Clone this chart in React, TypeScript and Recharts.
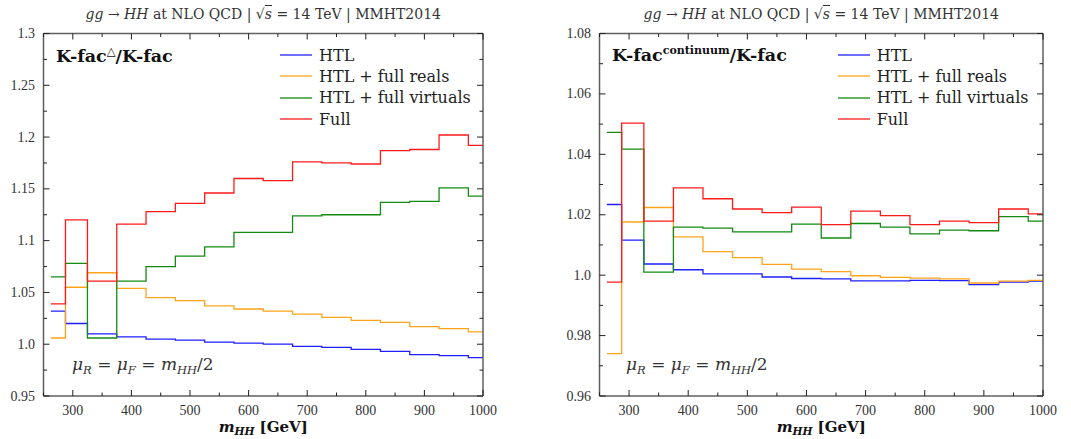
import React from "react";
import { Legend, Line, LineChart, XAxis, YAxis } from "recharts";

// bin edges in m_HH [GeV]; the last edge closes the last bin
const binEdges = [262.5, 287.5, 325, 375, 425, 475, 525, 575, 625, 675, 725, 775, 825, 875, 925, 975, 1000];

// K-fac^triangle / K-fac
const triHtl = [1.032, 1.020, 1.010, 1.007, 1.005, 1.004, 1.002, 1.001, 1.000, 0.998, 0.997, 0.995, 0.993, 0.990, 0.989, 0.987];
const triReals = [1.006, 1.055, 1.069, 1.054, 1.045, 1.042, 1.037, 1.034, 1.032, 1.029, 1.026, 1.023, 1.021, 1.017, 1.015, 1.012];
const triVirtuals = [1.065, 1.078, 1.006, 1.061, 1.075, 1.085, 1.094, 1.108, 1.108, 1.124, 1.125, 1.125, 1.137, 1.138, 1.151, 1.143];
const triFull = [1.039, 1.120, 1.061, 1.116, 1.128, 1.136, 1.146, 1.160, 1.158, 1.176, 1.175, 1.174, 1.187, 1.188, 1.202, 1.192];

// K-fac^continuum / K-fac
const contHtl = [1.0234, 1.0116, 1.0037, 1.0018, 1.0004, 1.0004, 0.9994, 0.9989, 0.9988, 0.9981, 0.9981, 0.9983, 0.9982, 0.9969, 0.9977, 0.998];
const contReals = [0.974, 1.0176, 1.0224, 1.0127, 1.0078, 1.0058, 1.0036, 1.002, 1.0012, 0.9998, 0.9993, 0.999, 0.9988, 0.9974, 0.998, 0.9983];
const contVirtuals = [1.0473, 1.0417, 1.001, 1.0159, 1.0156, 1.0143, 1.0143, 1.0169, 1.0123, 1.0171, 1.0159, 1.0137, 1.0149, 1.0147, 1.0194, 1.0179];
const contFull = [0.9977, 1.0503, 1.0179, 1.0289, 1.0253, 1.0219, 1.0207, 1.0225, 1.0167, 1.0212, 1.0197, 1.0167, 1.0179, 1.0174, 1.0219, 1.0203];

const seriesNames = ["HTL", "HTL + full reals", "HTL + full virtuals", "Full"];
const seriesColors = ["#1f1fff", "#ffa31a", "#138a13", "#ff1a1a"];
const keys = ["htl", "reals", "virtuals", "full"];

const xMajorTicks = [300, 400, 500, 600, 700, 800, 900, 1000];
const xAllTicks = [250, 300, 350, 400, 450, 500, 550, 600, 650, 700, 750, 800, 850, 900, 950, 1000];

const triYTicks = [0.95, 1.0, 1.05, 1.1, 1.15, 1.2, 1.25, 1.3];
const triYLabels = ["0.95", "1.0", "1.05", "1.1", "1.15", "1.2", "1.25", "1.3"];
const triYAll = [0.95, 0.975, 1.0, 1.025, 1.05, 1.075, 1.1, 1.125, 1.15, 1.175, 1.2, 1.225, 1.25, 1.275, 1.3];

const contYTicks = [0.96, 0.98, 1.0, 1.02, 1.04, 1.06, 1.08];
const contYLabels = ["0.96", "0.98", "1.0", "1.02", "1.04", "1.06", "1.08"];
const contYAll = [0.96, 0.97, 0.98, 0.99, 1.0, 1.01, 1.02, 1.03, 1.04, 1.05, 1.06, 1.07, 1.08];

function buildRows(series: number[][]) {
  return binEdges.map((x, i) => {
    const row: Record<string, number> = { x };
    const j = Math.min(i, series[0].length - 1);
    keys.forEach((k, s) => {
      row[k] = series[s][j];
    });
    return row;
  });
}

const FRAME = "#5f5f5f";
const SERIF = "'DejaVu Serif', serif";
const TICK_FONT = "'Liberation Serif', serif";

type Side = "bottom" | "top" | "left" | "right";

// draws inward tick marks (long for majors) and the labels of the major ticks
function makeTick(side: Side, majors: number[], labels?: string[]) {
  return (props: any) => {
    const { x, y, payload } = props;
    const v = payload.value;
    const idx = majors.indexOf(v);
    const len = idx >= 0 ? 6 : 3.5;
    let x2 = x;
    let y2 = y;
    if (side === "bottom") y2 = y - len;
    if (side === "top") y2 = y + len;
    if (side === "left") x2 = x + len;
    if (side === "right") x2 = x - len;
    return (
      <g>
        <line x1={x} y1={y} x2={x2} y2={y2} stroke="#222" strokeWidth={1} />
        {labels && idx >= 0 && side === "bottom" && (
          <text x={x} y={y + 18.5} textAnchor="middle" fontFamily={TICK_FONT} fontSize={14} fill="#333">
            {labels[idx]}
          </text>
        )}
        {labels && idx >= 0 && side === "left" && (
          <text x={x - 8.5} y={y + 4.5} textAnchor="end" fontFamily={TICK_FONT} fontSize={14} fill="#333">
            {labels[idx]}
          </text>
        )}
      </g>
    );
  };
}

const xTickLabels = xMajorTicks.map(String);

function LegendBox({ payload }: any) {
  const items = [...(payload || [])].sort(
    (a: any, b: any) => seriesNames.indexOf(a.value) - seriesNames.indexOf(b.value)
  );
  return (
    <div style={{ fontFamily: SERIF, fontSize: 16, color: "#222" }}>
      {items.map((p: any) => (
        <div key={p.value} style={{ display: "flex", alignItems: "center", height: 21.3, whiteSpace: "nowrap" }}>
          <svg width={32} height={4} style={{ marginRight: 7 }}>
            <line x1={0} y1={2} x2={32} y2={2} stroke={p.color} strokeWidth={1.3} />
          </svg>
          <span>{p.value}</span>
        </div>
      ))}
    </div>
  );
}

type PanelProps = {
  left: number;
  width: number;
  margin: { top: number; right: number; bottom: number; left: number };
  series: number[][];
  yTicks: number[];
  yLabels: string[];
  yAll: number[];
  legendLeft: number;
  label: React.ReactNode;
  labelLeft: number;
  muLeft: number;
};

function Panel(p: PanelProps) {
  const data = buildRows(p.series);
  const domainY: [number, number] = [p.yTicks[0], p.yTicks[p.yTicks.length - 1]];
  const plotCenter = p.margin.left + 1 + (p.width - p.margin.left - p.margin.right - 2) / 2;
  const axisLine = { stroke: FRAME, strokeWidth: 1.5 };
  const sub = { fontSize: 11.5 };
  return (
    <div style={{ position: "absolute", left: p.left, top: 0, width: p.width, height: 439 }}>
      <LineChart width={p.width} height={439} data={data} margin={p.margin}>
        <XAxis xAxisId="x" dataKey="x" type="number" domain={[250, 1000]} allowDataOverflow ticks={xAllTicks}
          height={1} tickSize={0} tickMargin={0} axisLine={axisLine} tickLine={false} interval={0}
          tick={makeTick("bottom", xMajorTicks, xTickLabels)} />
        <XAxis xAxisId="xt" dataKey="x" type="number" orientation="top" domain={[250, 1000]} allowDataOverflow
          ticks={xAllTicks} height={1} tickSize={0} tickMargin={0} axisLine={axisLine} tickLine={false} interval={0}
          tick={makeTick("top", xMajorTicks)} />
        <YAxis yAxisId="y" type="number" domain={domainY} allowDataOverflow ticks={p.yAll} width={1} tickSize={0}
          tickMargin={0} axisLine={axisLine} tickLine={false} interval={0}
          tick={makeTick("left", p.yTicks, p.yLabels)} />
        <YAxis yAxisId="yr" orientation="right" type="number" domain={domainY} allowDataOverflow ticks={p.yAll}
          width={1} tickSize={0} tickMargin={0} axisLine={axisLine} tickLine={false} interval={0}
          tick={makeTick("right", p.yTicks)} />
        {keys.map((k, i) => (
          <Line key={k} xAxisId="x" yAxisId="y" dataKey={k} name={seriesNames[i]} type="stepAfter"
            stroke={seriesColors[i]} strokeWidth={1.3} dot={false} activeDot={false} isAnimationActive={false} />
        ))}
        <Legend layout="vertical" align="center" verticalAlign="middle" content={<LegendBox />}
          wrapperStyle={{ left: p.legendLeft, top: 44.5, width: 230, height: 90 }} />
      </LineChart>
      <div style={{ position: "absolute", left: plotCenter, top: 6, transform: "translateX(-50%)", whiteSpace: "nowrap",
        fontFamily: SERIF, fontSize: 14, color: "#333" }}>
        <i>gg</i> → <i>HH</i> at NLO QCD | √<span style={{ textDecoration: "overline" }}><i>s</i></span> = 14 TeV | MMHT2014
      </div>
      <div style={{ position: "absolute", left: p.labelLeft, top: 44, whiteSpace: "nowrap", fontFamily: SERIF,
        fontSize: 17.5, fontWeight: "bold", color: "#111" }}>
        {p.label}
      </div>
      <div style={{ position: "absolute", left: p.muLeft, top: 354, whiteSpace: "nowrap", fontFamily: SERIF,
        fontSize: 17, color: "#333" }}>
        <i>μ</i><sub style={sub}><i>R</i></sub> = <i>μ</i><sub style={sub}><i>F</i></sub> ={" "}
        <i>m</i><sub style={sub}><i>HH</i></sub>/2
      </div>
      <div style={{ position: "absolute", left: plotCenter, top: 419, transform: "translateX(-50%)", whiteSpace: "nowrap",
        fontFamily: SERIF, fontSize: 15, lineHeight: "16px", fontWeight: "bold", color: "#111" }}>
        <i>m</i>
        <span style={{ fontSize: 10.5, position: "relative", top: 3 }}><i>HH</i></span> [GeV]
      </div>
    </div>
  );
}

export default function App() {
  return (
    <div style={{ position: "absolute", left: 0, top: 0, width: 1071, height: 439, background: "#fff", overflow: "hidden" }}>
      <Panel
        left={0}
        width={540}
        margin={{ top: 32.5, right: 56, bottom: 42, left: 42.5 }}
        series={[triHtl, triReals, triVirtuals, triFull]}
        yTicks={triYTicks}
        yLabels={triYLabels}
        yAll={triYAll}
        legendLeft={280}
        label={<span>K-fac<sup style={{ fontSize: 11.5, fontWeight: "normal" }}>△</sup>/K-fac</span>}
        labelLeft={56}
        muLeft={72}
      />
      <Panel
        left={535}
        width={536}
        margin={{ top: 32.5, right: 27, bottom: 42, left: 63.5 }}
        series={[contHtl, contReals, contVirtuals, contFull]}
        yTicks={contYTicks}
        yLabels={contYLabels}
        yAll={contYAll}
        legendLeft={302.7}
        label={<span>K-fac<sup style={{ fontSize: 11 }}>continuum</sup>/K-fac</span>}
        labelLeft={77}
        muLeft={91}
      />
    </div>
  );
}
